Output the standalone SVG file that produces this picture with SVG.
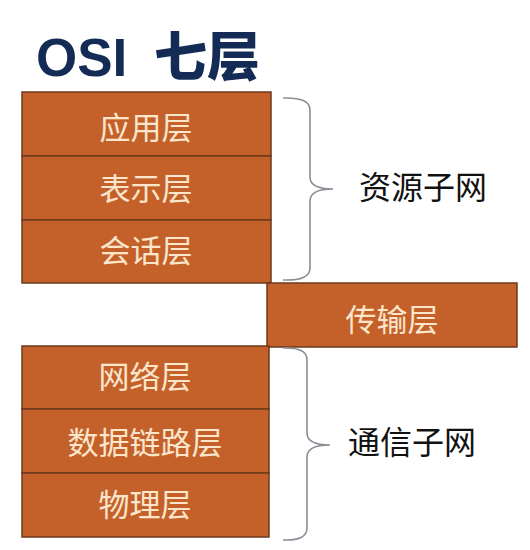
<svg xmlns="http://www.w3.org/2000/svg" width="530" height="550" viewBox="0 0 530 550">
<style>
.layer{fill:#c4612b;stroke:#6e3a1c;stroke-width:1.5}
.lt{font-family:"Noto Sans CJK SC","Noto Sans",sans-serif;font-size:31px;fill:#fbe6cc;text-anchor:middle}
.side{font-family:"Noto Sans CJK SC","Noto Sans",sans-serif;font-size:32px;fill:#111;}
.brace{fill:none;stroke:#8a8f96;stroke-width:1.6}
</style>
<rect width="530" height="550" fill="#ffffff"/>
<g id="title">
<text y="76" font-family="'Liberation Sans','Noto Sans CJK SC',sans-serif" font-weight="bold" font-size="53" fill="#132b55"><tspan x="36">OSI</tspan><tspan x="154" font-family="'Noto Sans CJK SC',sans-serif" font-weight="900">七层</tspan></text>
</g>
<g id="application"><rect class="layer" x="22" y="92" width="249" height="64"/><text class="lt" x="146" y="139">应用层</text></g>
<g id="presentation"><rect class="layer" x="22" y="156" width="249" height="64"/><text class="lt" x="146" y="200">表示层</text></g>
<g id="session"><rect class="layer" x="22" y="220" width="249" height="63"/><text class="lt" x="146" y="262">会话层</text></g>
<g id="transport"><rect class="layer" x="267" y="283" width="250" height="64"/><text class="lt" x="392" y="331">传输层</text></g>
<g id="network"><rect class="layer" x="22" y="346" width="247" height="63"/><text class="lt" x="145" y="388">网络层</text></g>
<g id="datalink"><rect class="layer" x="22" y="409" width="247" height="64"/><text class="lt" x="145" y="454">数据链路层</text></g>
<g id="physical"><rect class="layer" x="22" y="473" width="247" height="64"/><text class="lt" x="145" y="516">物理层</text></g>
<g id="connectors">
<path class="brace" d="M283,98 Q310,97 310,110 L310,177 Q310,189 333,189 Q310,189 310,201 L310,268 Q310,281 283,280"/>
<path class="brace" d="M283,348 Q307,347 307,360 L307,433 Q307,445 330,445 Q307,445 307,457 L307,528 Q307,541 283,540"/>
</g>
<g id="resource-subnet"><text class="side" x="359" y="199">资源子网</text></g>
<g id="comm-subnet"><text class="side" x="348" y="454">通信子网</text></g>
</svg>
